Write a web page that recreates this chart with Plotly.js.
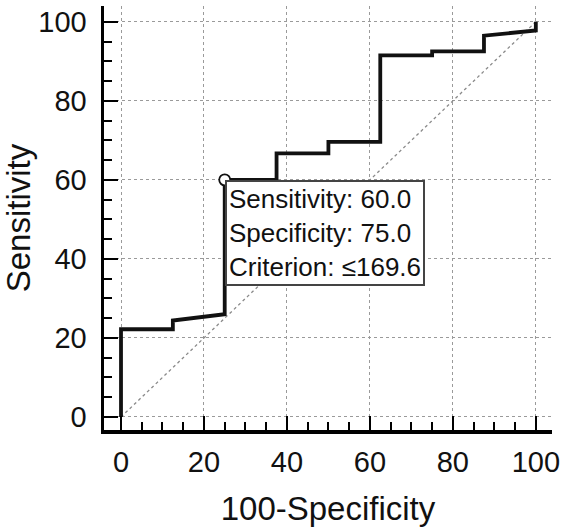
<!DOCTYPE html>
<html>
<head>
<meta charset="utf-8">
<script src="https://cdn.plot.ly/plotly-3.0.1.min.js"></script>
<style>html,body{margin:0;padding:0;background:#fff;}#chart{width:563px;height:527px;}</style>
</head>
<body>
<div id="chart"></div>
<script>
// ROC curve vertices (100-Specificity, Sensitivity)
const fpr  = [0, 0,    12.5, 12.5, 25,   25, 37.5, 37.5, 50,   50,   62.5, 62.5, 75,   75,   87.5, 87.5, 100,  100];
const sens = [0, 22.2, 22.2, 24.4, 26.0, 60, 60,   66.7, 66.7, 69.6, 69.6, 91.5, 91.5, 92.5, 92.5, 96.5, 97.8, 100];
// reference diagonal
const diagX = [0, 100];
const diagY = [0, 100];
// selected criterion point
const critX = [25];
const critY = [60];
const critText = ["Sensitivity: 60.0", "Specificity: 75.0", "Criterion: \u2264169.6"];
const tickVals = [0, 20, 40, 60, 80, 100];
const tickText = ["0", "20", "40", "60", "80", "100"];

const FONT = "Liberation Sans, Arial, Helvetica, sans-serif";

const traces = [
  {x: diagX, y: diagY, mode: "lines", line: {color: "#8a8a8a", width: 1.3, dash: "dot"}, hoverinfo: "skip"},
  {x: fpr, y: sens, mode: "lines", line: {color: "#111", width: 3.8}},
  {x: critX, y: critY, mode: "markers", marker: {symbol: "circle", size: 11, color: "#fff", line: {color: "#111", width: 1.8}}}
];

const axisCommon = {
  tickvals: tickVals, ticktext: tickText,
  showline: true, linecolor: "#000", linewidth: 3.5,
  ticks: "inside", ticklen: 14, tickwidth: 2, tickcolor: "#000",
  minor: {dtick: 5, ticks: "inside", ticklen: 8, tickwidth: 2, tickcolor: "#000", showgrid: false},
  showgrid: true, gridcolor: "#9a9a9a", gridwidth: 1, griddash: "dot",
  zeroline: false, mirror: false,
  tickfont: {family: FONT, size: 29, color: "#111"}
};

const layout = {
  width: 563, height: 527,
  margin: {l: 104, r: 11, t: 6, b: 97},
  paper_bgcolor: "#fff", plot_bgcolor: "#fff",
  showlegend: false,
  font: {family: FONT, color: "#111"},
  xaxis: Object.assign({}, axisCommon, {
    range: [-4.1, 103.9],
    ticklabelstandoff: 4,
    title: {text: "100-Specificity", font: {family: FONT, size: 33, color: "#111"}, standoff: 22}
  }),
  yaxis: Object.assign({}, axisCommon, {
    range: [-3.3, 104],
    ticklabelstandoff: 8,
    title: {text: "Sensitivity", font: {family: FONT, size: 33, color: "#111"}, standoff: 10}
  }),
  annotations: [{
    x: critX[0], y: critY[0], xref: "x", yref: "y",
    xanchor: "left", yanchor: "top", showarrow: false, align: "left",
    text: critText.join("<br>"),
    font: {family: FONT, size: 26, color: "#111"},
    bgcolor: "#fff", bordercolor: "#444", borderwidth: 2, borderpad: 2
  }]
};

Plotly.newPlot("chart", traces, layout, {staticPlot: true, displayModeBar: false});
</script>
</body>
</html>
